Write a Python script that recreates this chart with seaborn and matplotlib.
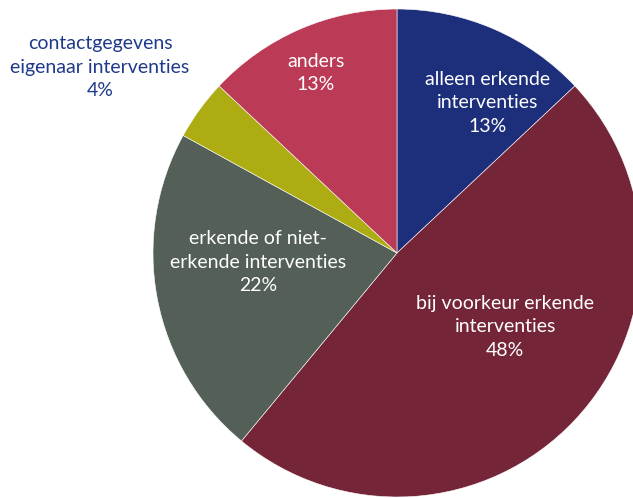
import matplotlib
matplotlib.use("Agg")
import matplotlib.pyplot as plt
import seaborn as sns

# slices, clockwise from 12 o'clock
labels = ["alleen erkende\ninterventies",
          "bij voorkeur erkende\ninterventies",
          "erkende of niet-\nerkende interventies",
          "contactgegevens\neigenaar interventies",
          "anders"]
shares = [13, 48, 22, 4, 13]
colors = ["#1d2f7b", "#742538", "#535f57", "#adac13", "#bb3a56"]
text_colors = ["white", "white", "white", "#1f3a8a", "white"]
# label centres (x, y) in pie units
label_pos = [(0.373, 0.615), (0.443, -0.303), (-0.570, -0.037),
             (-1.217, 0.762), (-0.332, 0.738)]

sns.set_style("white")
plt.rcParams["font.family"] = ["Lato", "DejaVu Sans"]

fig = plt.figure(figsize=(6.33, 4.98), dpi=100)
cx, cy, r = 397, 253, 244
ax = fig.add_axes([(cx - r) / 633, (498 - cy - r) / 498, 2 * r / 633, 2 * r / 498])

ax.pie(shares, colors=colors, startangle=90, counterclock=False, radius=1,
       wedgeprops=dict(edgecolor="white", linewidth=0.4))

for lab, val, tc, (x, y) in zip(labels, shares, text_colors, label_pos):
    ax.text(x, y, f"{lab}\n{val}%", ha="center", va="center", color=tc,
            fontsize=14, linespacing=1.45)

ax.set_xlim(-1, 1)
ax.set_ylim(-1, 1)
ax.set_aspect("equal")
ax.axis("off")

fig.savefig("out.png", dpi=100)
